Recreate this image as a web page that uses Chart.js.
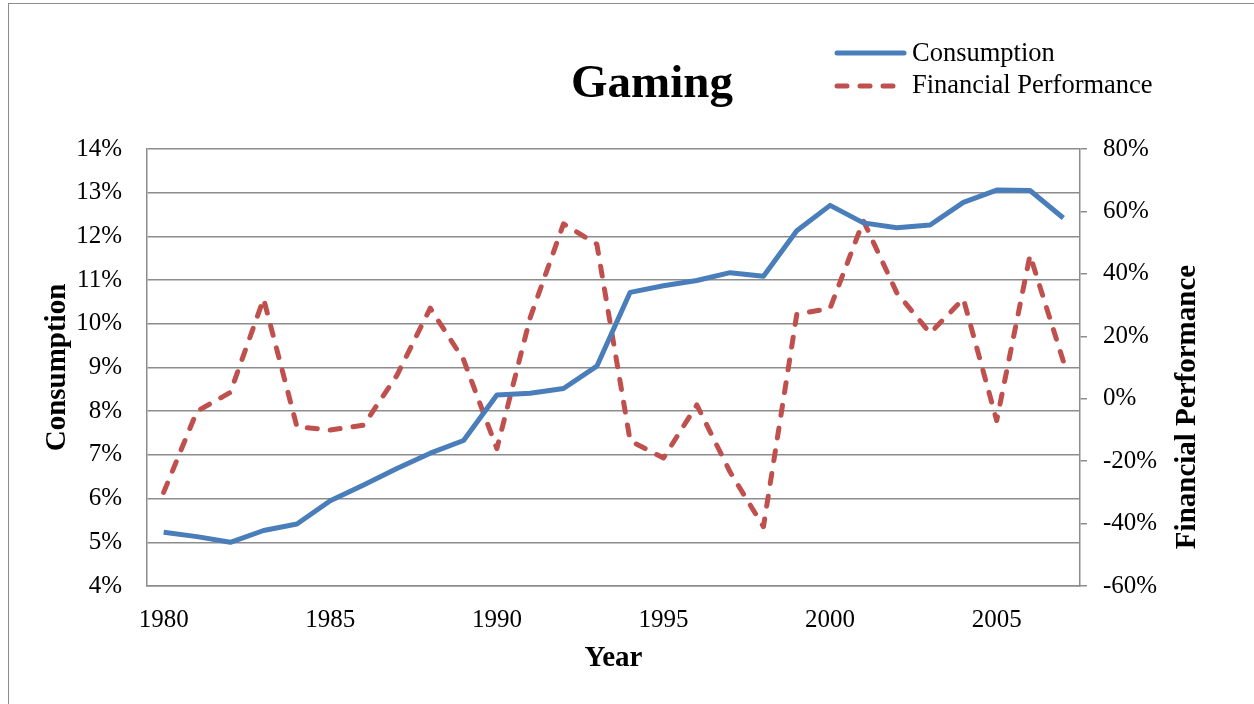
<!DOCTYPE html>
<html>
<head>
<meta charset="utf-8">
<title>Gaming</title>
<script src="https://cdn.jsdelivr.net/npm/chart.js@4/dist/chart.umd.min.js"></script>
<style>
  html, body { margin: 0; padding: 0; background: #fff; overflow: hidden; }
  #wrap { position: relative; width: 1254px; height: 704px; }
  #frame {
    position: absolute; left: 8px; top: 3px; width: 1260px; height: 720px;
    border-left: 1px solid #8c8c8c; border-top: 1px solid #8c8c8c;
    pointer-events: none;
  }
  canvas { display: block; }
</style>
</head>
<body>
<div id="wrap">
  <canvas id="gamingChart" width="1254" height="704"></canvas>
  <div id="frame"></div>
</div>
<script>
// yearly series, values in percent
const years = [1980, 1981, 1982, 1983, 1984, 1985, 1986, 1987, 1988, 1989,
               1990, 1991, 1992, 1993, 1994, 1995, 1996, 1997, 1998, 1999,
               2000, 2001, 2002, 2003, 2004, 2005, 2006, 2007];
const consumption = [5.23, 5.13, 5.00, 5.27, 5.42, 5.95, 6.31, 6.69, 7.04, 7.33,
                     8.37, 8.41, 8.52, 9.03, 10.72, 10.87, 10.99, 11.17, 11.09, 12.13,
                     12.71, 12.31, 12.20, 12.26, 12.78, 13.06, 13.05, 12.42];
const financialPerf = [-30, -4, 2, 32, -9, -10, -8.5, 7.5, 29, 12.5,
                       -16, 26, 56, 49.5, -13.5, -19, -2, -23.5, -41, 27,
                       29, 57, 34, 21, 32, -7, 46, 12];
const leftTicks = [4, 5, 6, 7, 8, 9, 10, 11, 12, 13, 14];
const rightTicks = [-60, -40, -20, 0, 20, 40, 60, 80];

const BLUE = '#4a7ebb';
const RED = '#c0504d';
const GRID = '#8c8c8c';
const SERIF = '"Liberation Serif", "Times New Roman", serif';

// title, legend and right axis title drawn straight onto the canvas
const decorations = {
    id: 'decorations',
    afterDraw(chart) {
        const ctx = chart.ctx;
        ctx.save();
        ctx.fillStyle = '#000';

        ctx.font = 'bold 47px ' + SERIF;
        ctx.textAlign = 'center';
        ctx.textBaseline = 'alphabetic';
        ctx.fillText('Gaming', 652, 97);

        // legend
        ctx.lineCap = 'round';
        ctx.lineWidth = 5;
        ctx.strokeStyle = BLUE;
        ctx.beginPath();
        ctx.moveTo(837, 53);
        ctx.lineTo(904, 53);
        ctx.stroke();

        ctx.strokeStyle = RED;
        ctx.setLineDash([10, 13]);
        ctx.beginPath();
        ctx.moveTo(837, 86);
        ctx.lineTo(904, 86);
        ctx.stroke();
        ctx.setLineDash([]);

        ctx.font = '26.5px ' + SERIF;
        ctx.textAlign = 'left';
        ctx.textBaseline = 'middle';
        ctx.fillText('Consumption', 912, 54);
        ctx.fillText('Financial Performance', 912, 86);

        ctx.translate(1188, 407);
        ctx.rotate(-Math.PI / 2);
        ctx.font = 'bold 29px ' + SERIF;
        ctx.textAlign = 'center';
        ctx.fillText('Financial Performance', 0, 0);
        ctx.restore();
    }
};

const ctx = document.getElementById('gamingChart').getContext('2d');
new Chart(ctx, {
    type: 'line',
    data: {
        labels: years,
        datasets: [
            {
                label: 'Consumption',
                data: consumption,
                yAxisID: 'y',
                borderColor: BLUE,
                borderWidth: 5,
                pointRadius: 0,
                tension: 0,
                borderJoinStyle: 'round'
            },
            {
                label: 'Financial Performance',
                data: financialPerf,
                yAxisID: 'y1',
                borderColor: RED,
                borderWidth: 5,
                borderDash: [10, 13],
                borderCapStyle: 'round',
                borderJoinStyle: 'round',
                pointRadius: 0,
                tension: 0
            }
        ]
    },
    options: {
        responsive: false,
        animation: false,
        layout: { padding: { top: 149, left: 0, right: 0, bottom: 0 } },
        plugins: {
            legend: { display: false },
            title: { display: false },
            tooltip: { enabled: false }
        },
        scales: {
            x: {
                type: 'category',
                offset: true,
                grid: { display: false, drawTicks: false },
                border: { display: true, color: GRID, width: 1.5 },
                ticks: {
                    autoSkip: false,
                    maxRotation: 0,
                    padding: 19,
                    color: '#000',
                    font: { family: SERIF, size: 25 },
                    callback: (val, idx) => years[idx] % 5 === 0 ? String(years[idx]) : ''
                },
                title: {
                    display: true,
                    text: 'Year',
                    color: '#000',
                    font: { family: SERIF, size: 29, weight: 'bold' },
                    padding: { top: 0, bottom: 28 }
                },
                afterFit: (scale) => { scale.height = 118; }
            },
            y: {
                position: 'left',
                min: leftTicks[0],
                max: leftTicks[leftTicks.length - 1],
                afterBuildTicks: (scale) => { scale.ticks = leftTicks.map(v => ({ value: v })); },
                grid: { color: GRID, lineWidth: 1.5, drawTicks: false },
                border: { display: true, color: GRID, width: 1.5 },
                ticks: {
                    padding: 25,
                    color: '#000',
                    font: { family: SERIF, size: 25 },
                    callback: (v) => v + '%'
                },
                title: {
                    display: true,
                    text: 'Consumption',
                    color: '#000',
                    font: { family: SERIF, size: 29, weight: 'bold' },
                    padding: { top: 40, bottom: 0 }
                },
                afterFit: (scale) => { scale.width = 147; }
            },
            y1: {
                position: 'right',
                min: rightTicks[0],
                max: rightTicks[rightTicks.length - 1],
                afterBuildTicks: (scale) => { scale.ticks = rightTicks.map(v => ({ value: v })); },
                grid: { drawOnChartArea: false, drawTicks: true, tickLength: 7, color: GRID, lineWidth: 1.5 },
                border: { display: true, color: GRID, width: 1.5 },
                ticks: {
                    padding: 16,
                    color: '#000',
                    font: { family: SERIF, size: 25 },
                    callback: (v) => v + '%'
                },
                afterFit: (scale) => { scale.width = 174; }
            }
        }
    },
    plugins: [decorations]
});
</script>
</body>
</html>
